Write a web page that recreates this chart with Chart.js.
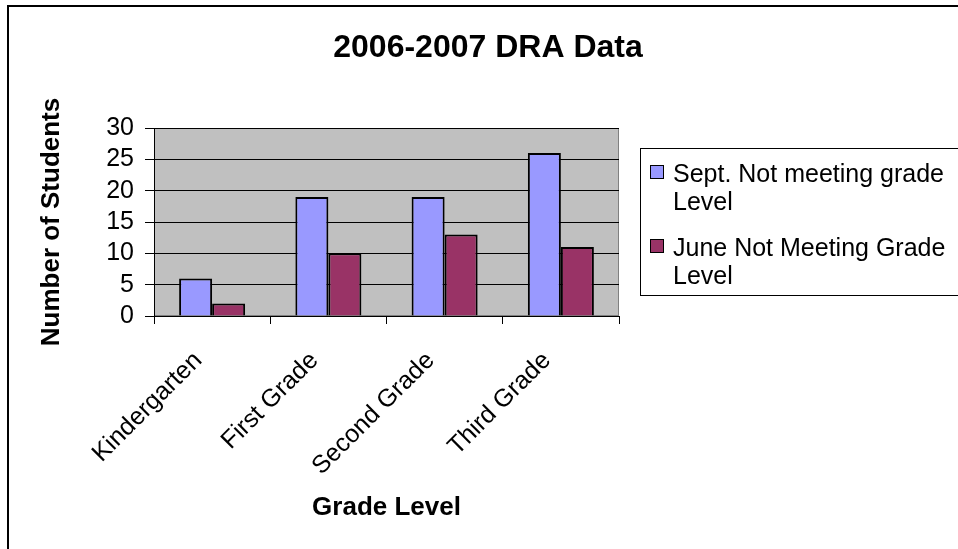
<!DOCTYPE html>
<html>
<head>
<meta charset="utf-8">
<script src="https://cdn.jsdelivr.net/npm/chart.js@4.4.1/dist/chart.umd.min.js"></script>
<style>
  html, body { margin: 0; padding: 0; background: #fff; }
  canvas { display: block; }
</style>
</head>
<body>
<canvas id="dra" width="958" height="549"></canvas>
<script>
const chartTitle = '2006-2007 DRA Data';
const categories = ['Kindergarten', 'First Grade', 'Second Grade', 'Third Grade'];
const seriesNames = ['Sept. Not meeting grade Level', 'June Not Meeting Grade Level'];
const septValues = [6, 19, 19, 26];
const juneValues = [2, 10, 13, 11];
const yTicks = [0, 5, 10, 15, 20, 25, 30];
const seriesColors = ['#9999ff', '#993366'];

const FONT = '"Liberation Sans", Arial, sans-serif';

const wrapText = (ctx, text, maxWidth) => {
  const lines = [];
  let line = '';
  text.split(' ').forEach(word => {
    const test = line ? `${line} ${word}` : word;
    if (line && ctx.measureText(test).width > maxWidth) {
      lines.push(line);
      line = word;
    } else {
      line = test;
    }
  });
  lines.push(line);
  return lines;
};

const excelFrame = {
  id: 'excelFrame',
  beforeDraw(chart) {
    const { ctx, chartArea: a, width, height } = chart;
    ctx.save();
    ctx.fillStyle = '#fff';
    ctx.fillRect(0, 0, width, height);
    // outer chart border (only left/top visible)
    ctx.fillStyle = '#000';
    ctx.fillRect(7, 5, 2, height);
    ctx.fillRect(7, 5, width, 2);
    // plot area
    ctx.fillStyle = '#c0c0c0';
    ctx.fillRect(a.left, a.top, a.width, a.height);
    ctx.strokeStyle = '#808080';
    ctx.lineWidth = 1;
    ctx.strokeRect(a.left + 0.5, a.top + 0.5, a.width - 1, a.height - 1);
    ctx.restore();
  },
  afterDraw(chart) {
    const { ctx } = chart;
    ctx.save();
    ctx.fillStyle = '#000';
    ctx.font = `bold 32px ${FONT}`;
    ctx.textAlign = 'center';
    ctx.textBaseline = 'alphabetic';
    ctx.fillText(chartTitle, 488, 57);

    // legend
    ctx.strokeStyle = '#000';
    ctx.lineWidth = 1;
    ctx.strokeRect(640.5, 148.5, 400, 147);
    ctx.font = `25px ${FONT}`;
    ctx.textAlign = 'left';
    let baseline = 182;
    chart.data.datasets.forEach(ds => {
      ctx.fillStyle = ds.backgroundColor;
      ctx.fillRect(650, baseline - 17, 14, 14);
      ctx.strokeRect(650.5, baseline - 16.5, 13, 13);
      ctx.fillStyle = '#000';
      const lines = wrapText(ctx, ds.label, 282);
      lines.forEach((ln, i) => ctx.fillText(ln, 673, baseline + i * 28));
      baseline += lines.length * 28 + 18;
    });
    ctx.restore();
  }
};

const makeDataset = (label, values, color) => ({
  label,
  data: values,
  backgroundColor: color,
  borderColor: '#000',
  borderWidth: 2,
  borderSkipped: 'start',
  categoryPercentage: 0.568,
  barPercentage: 1
});

const startChart = () => new Chart(document.getElementById('dra'), {
  type: 'bar',
  data: {
    labels: categories,
    datasets: [
      makeDataset(seriesNames[0], septValues, seriesColors[0]),
      makeDataset(seriesNames[1], juneValues, seriesColors[1])
    ]
  },
  options: {
    responsive: false,
    animation: false,
    events: [],
    layout: { padding: { top: 128, right: 339, left: 0, bottom: 0 } },
    plugins: {
      legend: { display: false },
      title: { display: false },
      tooltip: { enabled: false }
    },
    scales: {
      x: {
        grid: { drawOnChartArea: false, color: '#000', tickLength: 8 },
        border: { color: '#000', width: 1 },
        ticks: {
          color: '#000',
          font: { family: FONT, size: 25 },
          minRotation: 45,
          maxRotation: 45,
          padding: 22,
          labelOffset: -14,
          autoSkip: false
        },
        title: {
          display: true,
          text: 'Grade Level',
          color: '#000',
          font: { family: FONT, size: 26, weight: 'bold' },
          padding: { top: 0, bottom: 26 }
        },
        afterFit: scale => { scale.height = 549 - 316; }
      },
      y: {
        min: yTicks[0],
        max: yTicks[yTicks.length - 1],
        afterBuildTicks: scale => { scale.ticks = yTicks.map(value => ({ value })); },
        grid: { color: '#000', tickLength: 9, lineWidth: 1 },
        border: { color: '#000', width: 1 },
        ticks: {
          color: '#000',
          font: { family: FONT, size: 25 },
          padding: 11,
          autoSkip: false
        },
        title: {
          display: true,
          text: 'Number of Students',
          color: '#000',
          font: { family: FONT, size: 26, weight: 'bold' },
          padding: { top: 36, bottom: 0 }
        },
        afterFit: scale => { scale.width = 154; }
      }
    }
  },
  plugins: [excelFrame]
});

startChart();
</script>
</body>
</html>
